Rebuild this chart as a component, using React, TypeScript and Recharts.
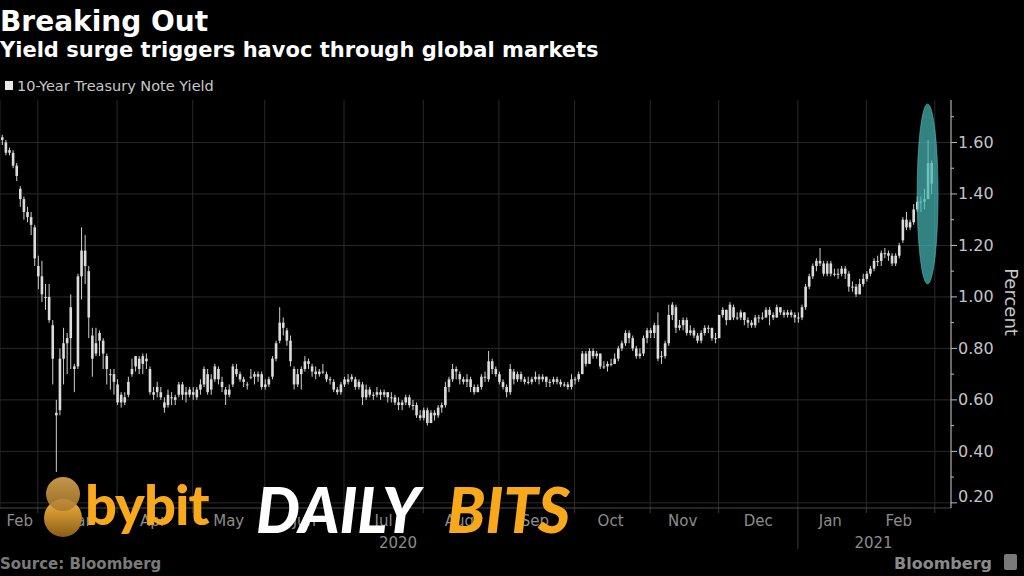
import React from 'react';
import { ComposedChart, Bar, XAxis, YAxis, CartesianGrid, ReferenceDot } from 'recharts';

// [day, open, high, low, close] — 10-Year Treasury Note Yield, percent
type Row = [number, number, number, number, number];

const feb2020: Row[] = [
  [14, 1.62, 1.63, 1.59, 1.61], [18, 1.60, 1.61, 1.55, 1.56], [19, 1.56, 1.58, 1.55, 1.57],
  [20, 1.56, 1.57, 1.50, 1.51], [21, 1.51, 1.52, 1.45, 1.47], [24, 1.42, 1.43, 1.35, 1.38],
  [25, 1.38, 1.39, 1.30, 1.33], [26, 1.33, 1.35, 1.29, 1.31], [27, 1.31, 1.33, 1.24, 1.28],
  [28, 1.27, 1.28, 1.12, 1.15],
];
const mar2020: Row[] = [
  [2, 1.12, 1.16, 1.03, 1.08], [3, 1.08, 1.14, 0.98, 1.01], [4, 1.00, 1.05, 0.95, 1.00],
  [5, 1.00, 1.05, 0.90, 0.91], [6, 0.89, 0.91, 0.66, 0.76], [9, 0.55, 0.60, 0.32, 0.54],
  [10, 0.56, 0.80, 0.54, 0.76], [11, 0.76, 0.88, 0.66, 0.82], [12, 0.82, 0.86, 0.70, 0.84],
  [13, 0.84, 1.01, 0.72, 0.96], [16, 0.72, 0.74, 0.63, 0.73], [17, 0.73, 1.09, 0.72, 1.08],
  [18, 1.08, 1.27, 0.99, 1.18], [19, 1.18, 1.24, 1.05, 1.12], [20, 1.10, 1.12, 0.84, 0.92],
  [23, 0.85, 0.88, 0.69, 0.76], [24, 0.78, 0.88, 0.77, 0.82], [25, 0.83, 0.87, 0.77, 0.86],
  [26, 0.83, 0.84, 0.72, 0.78], [27, 0.77, 0.78, 0.66, 0.72], [30, 0.70, 0.72, 0.64, 0.70],
  [31, 0.70, 0.72, 0.62, 0.67],
];
const apr2020: Row[] = [
  [1, 0.66, 0.68, 0.58, 0.59], [2, 0.59, 0.63, 0.57, 0.62], [3, 0.61, 0.63, 0.58, 0.59],
  [6, 0.62, 0.69, 0.61, 0.67], [7, 0.70, 0.76, 0.69, 0.72], [8, 0.73, 0.77, 0.71, 0.77],
  [9, 0.76, 0.77, 0.70, 0.72], [13, 0.74, 0.78, 0.70, 0.77], [14, 0.76, 0.78, 0.72, 0.75],
  [15, 0.72, 0.73, 0.62, 0.63], [16, 0.63, 0.65, 0.60, 0.62], [17, 0.63, 0.67, 0.61, 0.65],
  [20, 0.63, 0.65, 0.60, 0.61], [21, 0.59, 0.61, 0.55, 0.57], [22, 0.58, 0.64, 0.57, 0.62],
  [23, 0.61, 0.63, 0.58, 0.61], [24, 0.61, 0.62, 0.58, 0.60], [27, 0.62, 0.67, 0.61, 0.66],
  [28, 0.66, 0.67, 0.60, 0.62], [29, 0.62, 0.65, 0.59, 0.63], [30, 0.62, 0.65, 0.61, 0.64],
];
const may2020: Row[] = [
  [1, 0.63, 0.65, 0.60, 0.62], [4, 0.61, 0.65, 0.60, 0.64], [5, 0.64, 0.68, 0.62, 0.66],
  [6, 0.66, 0.73, 0.65, 0.72], [7, 0.70, 0.72, 0.62, 0.63], [8, 0.64, 0.70, 0.62, 0.68],
  [11, 0.68, 0.74, 0.67, 0.73], [12, 0.72, 0.73, 0.66, 0.68], [13, 0.67, 0.69, 0.63, 0.65],
  [14, 0.64, 0.65, 0.58, 0.62], [15, 0.62, 0.66, 0.61, 0.64], [18, 0.66, 0.74, 0.65, 0.73],
  [19, 0.72, 0.74, 0.69, 0.70], [20, 0.70, 0.71, 0.67, 0.68], [21, 0.68, 0.69, 0.65, 0.67],
  [22, 0.66, 0.67, 0.64, 0.66], [26, 0.69, 0.72, 0.68, 0.69], [27, 0.70, 0.71, 0.66, 0.69],
  [28, 0.69, 0.71, 0.67, 0.70], [29, 0.70, 0.71, 0.64, 0.65],
];
const jun2020: Row[] = [
  [1, 0.65, 0.68, 0.64, 0.66], [2, 0.66, 0.69, 0.65, 0.68], [3, 0.69, 0.77, 0.68, 0.76],
  [4, 0.76, 0.83, 0.75, 0.82], [5, 0.83, 0.96, 0.82, 0.90], [8, 0.90, 0.92, 0.85, 0.88],
  [9, 0.87, 0.88, 0.81, 0.83], [10, 0.83, 0.85, 0.73, 0.75], [11, 0.72, 0.73, 0.64, 0.66],
  [12, 0.66, 0.72, 0.65, 0.70], [15, 0.70, 0.73, 0.64, 0.72], [16, 0.72, 0.77, 0.71, 0.75],
  [17, 0.75, 0.76, 0.72, 0.74], [18, 0.73, 0.74, 0.69, 0.71], [19, 0.71, 0.73, 0.68, 0.70],
  [22, 0.70, 0.72, 0.69, 0.71], [23, 0.71, 0.74, 0.70, 0.71], [24, 0.70, 0.71, 0.67, 0.68],
  [25, 0.68, 0.69, 0.66, 0.68], [26, 0.67, 0.68, 0.63, 0.64], [29, 0.64, 0.65, 0.62, 0.63],
  [30, 0.63, 0.67, 0.62, 0.66],
];
const jul2020: Row[] = [
  [1, 0.66, 0.69, 0.65, 0.68], [2, 0.68, 0.70, 0.66, 0.67], [6, 0.68, 0.70, 0.67, 0.69],
  [7, 0.68, 0.69, 0.64, 0.65], [8, 0.65, 0.68, 0.64, 0.67], [9, 0.66, 0.67, 0.58, 0.61],
  [10, 0.61, 0.66, 0.60, 0.64], [13, 0.64, 0.65, 0.61, 0.62], [14, 0.62, 0.63, 0.60, 0.62],
  [15, 0.62, 0.65, 0.61, 0.63], [16, 0.63, 0.64, 0.60, 0.62], [17, 0.62, 0.64, 0.61, 0.63],
  [20, 0.63, 0.63, 0.59, 0.61], [21, 0.61, 0.63, 0.59, 0.61], [22, 0.61, 0.62, 0.58, 0.59],
  [23, 0.59, 0.61, 0.56, 0.58], [24, 0.58, 0.60, 0.56, 0.59], [27, 0.59, 0.62, 0.58, 0.61],
  [28, 0.61, 0.62, 0.57, 0.58], [29, 0.58, 0.60, 0.56, 0.58], [30, 0.58, 0.59, 0.53, 0.54],
  [31, 0.54, 0.56, 0.52, 0.53],
];
const aug2020: Row[] = [
  [3, 0.53, 0.57, 0.52, 0.56], [4, 0.56, 0.57, 0.50, 0.51], [5, 0.51, 0.56, 0.51, 0.55],
  [6, 0.55, 0.56, 0.52, 0.54], [7, 0.54, 0.58, 0.53, 0.57], [10, 0.57, 0.59, 0.55, 0.58],
  [11, 0.58, 0.67, 0.57, 0.65], [12, 0.65, 0.69, 0.63, 0.68], [13, 0.68, 0.74, 0.67, 0.72],
  [14, 0.72, 0.73, 0.68, 0.71], [17, 0.70, 0.71, 0.66, 0.68], [18, 0.68, 0.69, 0.66, 0.67],
  [19, 0.67, 0.70, 0.65, 0.68], [20, 0.68, 0.69, 0.63, 0.65], [21, 0.65, 0.66, 0.62, 0.63],
  [24, 0.63, 0.66, 0.63, 0.65], [25, 0.65, 0.70, 0.64, 0.69], [26, 0.69, 0.71, 0.67, 0.69],
  [27, 0.68, 0.79, 0.67, 0.75], [28, 0.75, 0.76, 0.70, 0.72], [31, 0.72, 0.73, 0.69, 0.70],
];
const sep2020: Row[] = [
  [1, 0.70, 0.71, 0.66, 0.67], [2, 0.67, 0.68, 0.64, 0.65], [3, 0.65, 0.66, 0.61, 0.63],
  [4, 0.63, 0.74, 0.62, 0.72], [8, 0.71, 0.72, 0.66, 0.68], [9, 0.68, 0.71, 0.67, 0.70],
  [10, 0.70, 0.71, 0.67, 0.68], [11, 0.68, 0.69, 0.66, 0.67], [14, 0.67, 0.69, 0.66, 0.67],
  [15, 0.67, 0.69, 0.66, 0.68], [16, 0.68, 0.71, 0.67, 0.69], [17, 0.69, 0.70, 0.66, 0.68],
  [18, 0.68, 0.70, 0.67, 0.69], [21, 0.69, 0.69, 0.65, 0.67], [22, 0.67, 0.68, 0.65, 0.67],
  [23, 0.67, 0.69, 0.66, 0.68], [24, 0.68, 0.69, 0.66, 0.67], [25, 0.67, 0.68, 0.65, 0.66],
  [28, 0.66, 0.67, 0.65, 0.66], [29, 0.66, 0.67, 0.64, 0.65], [30, 0.65, 0.70, 0.64, 0.68],
];
const oct2020: Row[] = [
  [1, 0.68, 0.69, 0.66, 0.68], [2, 0.68, 0.71, 0.67, 0.70], [5, 0.70, 0.79, 0.70, 0.78],
  [6, 0.78, 0.79, 0.73, 0.74], [7, 0.74, 0.80, 0.74, 0.79], [8, 0.79, 0.80, 0.76, 0.77],
  [9, 0.77, 0.79, 0.76, 0.78], [13, 0.78, 0.78, 0.72, 0.73], [14, 0.73, 0.75, 0.72, 0.73],
  [15, 0.73, 0.75, 0.71, 0.74], [16, 0.74, 0.76, 0.73, 0.74], [19, 0.74, 0.78, 0.74, 0.76],
  [20, 0.76, 0.81, 0.75, 0.80], [21, 0.80, 0.83, 0.79, 0.82], [22, 0.82, 0.87, 0.81, 0.86],
  [23, 0.86, 0.87, 0.82, 0.84], [26, 0.84, 0.85, 0.79, 0.80], [27, 0.80, 0.81, 0.76, 0.77],
  [28, 0.77, 0.80, 0.76, 0.78], [29, 0.78, 0.85, 0.77, 0.84], [30, 0.84, 0.88, 0.82, 0.87],
];
const nov2020: Row[] = [
  [2, 0.87, 0.88, 0.84, 0.86], [3, 0.86, 0.90, 0.84, 0.89], [4, 0.89, 0.94, 0.75, 0.76],
  [5, 0.77, 0.79, 0.74, 0.77], [6, 0.77, 0.83, 0.76, 0.82], [9, 0.82, 0.97, 0.81, 0.93],
  [10, 0.93, 0.98, 0.91, 0.97], [12, 0.96, 0.97, 0.86, 0.88], [13, 0.88, 0.91, 0.87, 0.89],
  [16, 0.89, 0.92, 0.87, 0.91], [17, 0.91, 0.92, 0.85, 0.86], [18, 0.86, 0.89, 0.85, 0.87],
  [19, 0.87, 0.88, 0.84, 0.85], [20, 0.85, 0.86, 0.82, 0.83], [23, 0.83, 0.87, 0.82, 0.86],
  [24, 0.86, 0.89, 0.85, 0.88], [25, 0.88, 0.89, 0.86, 0.88], [27, 0.88, 0.88, 0.83, 0.84],
  [30, 0.84, 0.86, 0.82, 0.84],
];
const dec2020: Row[] = [
  [1, 0.84, 0.93, 0.84, 0.93], [2, 0.93, 0.96, 0.92, 0.95], [3, 0.95, 0.95, 0.89, 0.91],
  [4, 0.91, 0.98, 0.91, 0.97], [7, 0.96, 0.97, 0.91, 0.92], [8, 0.92, 0.94, 0.91, 0.92],
  [9, 0.92, 0.95, 0.91, 0.94], [10, 0.94, 0.94, 0.89, 0.91], [11, 0.91, 0.92, 0.88, 0.90],
  [14, 0.90, 0.91, 0.88, 0.89], [15, 0.89, 0.93, 0.88, 0.92], [16, 0.92, 0.93, 0.90, 0.92],
  [17, 0.92, 0.94, 0.91, 0.92], [18, 0.92, 0.96, 0.92, 0.95], [21, 0.95, 0.96, 0.89, 0.93],
  [22, 0.93, 0.94, 0.91, 0.92], [23, 0.92, 0.97, 0.92, 0.96], [24, 0.96, 0.96, 0.93, 0.94],
  [28, 0.94, 0.95, 0.92, 0.93], [29, 0.93, 0.95, 0.92, 0.94], [30, 0.94, 0.95, 0.92, 0.93],
  [31, 0.93, 0.94, 0.90, 0.92],
];
const jan2021: Row[] = [
  [4, 0.92, 0.94, 0.90, 0.92], [5, 0.92, 0.97, 0.91, 0.96], [6, 0.96, 1.05, 0.95, 1.04],
  [7, 1.04, 1.09, 1.03, 1.08], [8, 1.08, 1.13, 1.07, 1.12], [11, 1.12, 1.15, 1.10, 1.14],
  [12, 1.14, 1.19, 1.12, 1.13], [13, 1.13, 1.14, 1.08, 1.09], [14, 1.09, 1.14, 1.08, 1.13],
  [15, 1.13, 1.14, 1.08, 1.09], [19, 1.09, 1.11, 1.08, 1.09], [20, 1.09, 1.11, 1.07, 1.09],
  [21, 1.09, 1.12, 1.08, 1.11], [22, 1.11, 1.12, 1.07, 1.09], [25, 1.09, 1.10, 1.02, 1.04],
  [26, 1.04, 1.06, 1.02, 1.04], [27, 1.04, 1.05, 1.00, 1.01], [28, 1.01, 1.07, 1.01, 1.05],
  [29, 1.05, 1.09, 1.04, 1.07],
];
const feb2021: Row[] = [
  [1, 1.07, 1.10, 1.06, 1.09], [2, 1.09, 1.12, 1.08, 1.11], [3, 1.11, 1.15, 1.10, 1.14],
  [4, 1.14, 1.16, 1.12, 1.14], [5, 1.14, 1.18, 1.12, 1.17], [8, 1.17, 1.19, 1.15, 1.17],
  [9, 1.17, 1.18, 1.14, 1.16], [10, 1.16, 1.17, 1.12, 1.13], [11, 1.13, 1.17, 1.12, 1.16],
  [12, 1.16, 1.21, 1.15, 1.20], [16, 1.22, 1.31, 1.21, 1.30], [17, 1.30, 1.33, 1.26, 1.27],
  [18, 1.27, 1.30, 1.26, 1.29], [19, 1.29, 1.36, 1.28, 1.34], [22, 1.34, 1.39, 1.33, 1.37],
  [23, 1.37, 1.39, 1.33, 1.37], [24, 1.37, 1.42, 1.34, 1.38], [25, 1.38, 1.61, 1.38, 1.52],
  [26, 1.52, 1.53, 1.40, 1.44],
];
// empty trading-day slots after the last observation (right-hand padding)
const mar2021PadDays = [1, 2, 3, 4, 5];

const monthNames = ['Jan', 'Feb', 'Mar', 'Apr', 'May', 'Jun', 'Jul', 'Aug', 'Sep', 'Oct', 'Nov', 'Dec'];
const series: { year: number; month: number; rows: Row[] }[] = [
  { year: 2020, month: 2, rows: feb2020 }, { year: 2020, month: 3, rows: mar2020 },
  { year: 2020, month: 4, rows: apr2020 }, { year: 2020, month: 5, rows: may2020 },
  { year: 2020, month: 6, rows: jun2020 }, { year: 2020, month: 7, rows: jul2020 },
  { year: 2020, month: 8, rows: aug2020 }, { year: 2020, month: 9, rows: sep2020 },
  { year: 2020, month: 10, rows: oct2020 }, { year: 2020, month: 11, rows: nov2020 },
  { year: 2020, month: 12, rows: dec2020 }, { year: 2021, month: 1, rows: jan2021 },
  { year: 2021, month: 2, rows: feb2021 },
];

const yTicks = [0.2, 0.3, 0.4, 0.5, 0.6, 0.7, 0.8, 0.9, 1.0, 1.1, 1.2, 1.3, 1.4, 1.5, 1.6, 1.7];
const gridValues = [0.2, 0.4, 0.6, 0.8, 1.0, 1.2, 1.4, 1.6];
const yDomain: [number, number] = [0.18, 1.765];

const p2 = (n: number) => (n < 10 ? '0' + n : '' + n);
const keyOf = (y: number, m: number, d: number) => `${y}-${p2(m)}-${p2(d)}`;

type Datum = { key: string; o?: number; h?: number; l?: number; c?: number; range: [number, number] | null };
const data: Datum[] = [];
const monthStartTicks: string[] = [];
const monthMidTicks: string[] = [];
series.forEach((s, si) => {
  s.rows.forEach(([d, o, h, l, c], i) => {
    const key = keyOf(s.year, s.month, d);
    if (i === 0 && si > 0) monthStartTicks.push(key);
    if (i === Math.floor(s.rows.length / 2)) monthMidTicks.push(key);
    data.push({ key, o, h, l, c, range: [l, h] });
  });
});
mar2021PadDays.forEach((d, i) => {
  const key = keyOf(2021, 3, d);
  if (i === 0) monthStartTicks.push(key);
  data.push({ key, range: null });
});
const keys2020 = data.filter((r) => r.key.startsWith('2020')).map((r) => r.key);
const keys2021 = data.filter((r) => r.key.startsWith('2021')).map((r) => r.key);
const yearTicks = [keys2020[Math.floor(keys2020.length / 2)], keys2021[Math.floor(keys2021.length / 2)]];
const yearSeparatorTick = keys2021[0];
const spikeKey = keyOf(2021, 2, 25);

const FONT = '"DejaVu Sans", sans-serif';

const Candle = (props: any) => {
  const { x, y, width, height, payload } = props;
  if (!payload || payload.range == null || height == null) return null;
  const top = Math.min(y, y + height);
  const hgt = Math.abs(height);
  const span = payload.h - payload.l || 1e-6;
  const toY = (v: number) => top + ((payload.h - v) / span) * hgt;
  const cx = x + width / 2;
  const yo = toY(payload.o);
  const yc = toY(payload.c);
  const bt = Math.min(yo, yc);
  const bh = Math.max(1, Math.abs(yc - yo));
  return (
    <g>
      <line x1={cx} x2={cx} y1={top} y2={top + Math.max(hgt, 1)} stroke="#cfcfcf" strokeWidth={1} />
      <rect x={x} y={bt} width={width} height={bh} fill="#dcdcdc" />
    </g>
  );
};

const YTick = (props: any) => {
  const { x, y, payload } = props;
  const v = payload.value as number;
  const major = Math.round(v * 10) % 2 === 0;
  const lift = Math.abs(v - 0.2) < 1e-6 ? -6 : 0;
  return (
    <g>
      <line x1={x} x2={x + (major ? 6 : 3)} y1={y} y2={y} stroke="#bdbdbd" strokeWidth={1} />
      {major && (
        <text x={x + 7} y={y + lift} fill="#c4c4c4" fontSize={16} fontFamily={FONT} dominantBaseline="central">
          {v.toFixed(2)}
        </text>
      )}
    </g>
  );
};

const BoundaryTick = (props: any) => {
  const { x, y, payload } = props;
  const long = payload.value === yearSeparatorTick;
  return <line x1={x} x2={x} y1={y} y2={y + (long ? 41 : 5)} stroke="#3a3a3a" strokeWidth={1} />;
};

const MonthTick = (props: any) => {
  const { x, y, payload } = props;
  const m = parseInt(String(payload.value).slice(5, 7), 10);
  return (
    <text x={x} y={y + 12} fill="#8c8c8c" fontSize={15} fontFamily={FONT} textAnchor="middle" dominantBaseline="central">
      {monthNames[m - 1]}
    </text>
  );
};

const YearTick = (props: any) => {
  const { x, y, payload } = props;
  return (
    <text x={x} y={y + 33} fill="#8c8c8c" fontSize={15} fontFamily={FONT} textAnchor="middle" dominantBaseline="central">
      {String(payload.value).slice(0, 4)}
    </text>
  );
};

const Ellipse = (props: any) => (
  <ellipse cx={props.cx} cy={props.cy} rx={10.5} ry={90} fill="#46b4b4" fillOpacity={0.72} stroke="#5cc8c8" strokeOpacity={0.5} strokeWidth={1} />
);

export default function App() {
  return (
    <div style={{ position: 'fixed', left: 0, top: 0, width: 1024, height: 576, background: '#000', overflow: 'hidden' }}>
      <ComposedChart width={1024} height={576} data={data} margin={{ top: 100, right: 0, bottom: 65, left: 0 }}>
        <CartesianGrid stroke="#2a2a2a" horizontalValues={gridValues} />
        <XAxis dataKey="key" xAxisId={0} ticks={monthStartTicks} interval={0} height={1} tickSize={0} tickMargin={0}
          axisLine={{ stroke: '#4a4a4a' }} tickLine={false} tick={<BoundaryTick />} />
        <XAxis dataKey="key" xAxisId="m" ticks={monthMidTicks} interval={0} height={1} tickSize={0} tickMargin={0}
          axisLine={false} tickLine={false} tick={<MonthTick />} />
        <XAxis dataKey="key" xAxisId="yr" ticks={yearTicks} interval={0} height={1} tickSize={0} tickMargin={0}
          axisLine={false} tickLine={false} tick={<YearTick />} />
        <YAxis orientation="right" type="number" width={73} domain={yDomain} allowDataOverflow ticks={yTicks} interval={0}
          tickSize={0} tickMargin={0} tickLine={false} axisLine={{ stroke: '#bdbdbd' }} tick={<YTick />} />
        <Bar dataKey="range" barSize={2.6} shape={<Candle />} isAnimationActive={false} />
        <ReferenceDot x={spikeKey} y={1.40} r={10} shape={<Ellipse />} />
      </ComposedChart>
      <svg width={1024} height={576} style={{ position: 'absolute', left: 0, top: 0, pointerEvents: 'none' }}>
        <defs>
          <linearGradient id="coinB" x1="0" y1="0" x2="0" y2="1">
            <stop offset="0" stopColor="#f4b43c" />
            <stop offset="1" stopColor="#8a5c18" />
          </linearGradient>
          <linearGradient id="coinT" x1="0" y1="0" x2="0" y2="1">
            <stop offset="0" stopColor="#d8a650" />
            <stop offset="1" stopColor="#a9782c" />
          </linearGradient>
        </defs>
        <text x={0} y={31} fill="#ffffff" fontSize={28} fontWeight="bold" fontFamily={FONT}>Breaking Out</text>
        <text x={0} y={57} fill="#ffffff" fontSize={21} fontWeight="bold" fontFamily={FONT}>Yield surge triggers havoc through global markets</text>
        <rect x={5} y={81} width={8} height={9} fill="#e8e8e8" />
        <text x={17} y={91} fill="#c8c8c8" fontSize={14.5} fontFamily={FONT}>10-Year Treasury Note Yield</text>
        <text x={1011} y={302} fill="#c8c8c8" fontSize={18} fontFamily={FONT} textAnchor="middle" transform="rotate(90 1011 302)" dominantBaseline="central">Percent</text>
        <text x={0} y={569} fill="#7a7a7a" fontSize={15} fontWeight="bold" fontFamily={FONT}>Source: Bloomberg</text>
        <text x={992} y={569} fill="#8a8a8a" fontSize={16} fontWeight="bold" fontFamily={FONT} textAnchor="end">Bloomberg</text>
        <rect x={1004} y={554} width={13} height={16} rx={2} fill="#7a7a7a" />
        {/* bybit DAILY BITS overlay */}
        <circle cx={63} cy={518} r={19} fill="url(#coinB)" />
        <circle cx={63} cy={494} r={17} fill="url(#coinT)" fillOpacity={0.9} />
        <text x={85} y={525} fill="#f7a81b" fontSize={56} fontWeight={900} fontFamily="Lato, sans-serif" letterSpacing={-1}>bybit</text>
        <text x={256} y={533} fill="#ffffff" fontSize={62} fontWeight={900} fontStyle="italic" fontFamily="Lato, sans-serif">DAILY</text>
        <text x={447} y={533} fill="#f7a81b" fontSize={62} fontWeight={900} fontStyle="italic" fontFamily="Lato, sans-serif">BITS</text>
      </svg>
    </div>
  );
}
